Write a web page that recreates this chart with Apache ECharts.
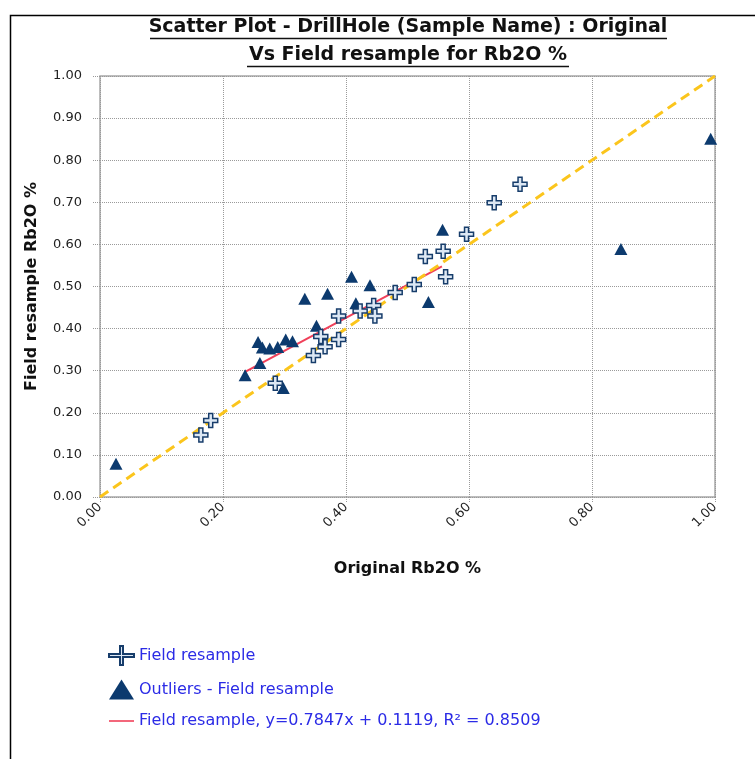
<!DOCTYPE html>
<html><head><meta charset="utf-8">
<script src="https://cdn.jsdelivr.net/npm/echarts@6/dist/echarts.min.js"></script>
<style>html,body{margin:0;padding:0;background:#fff}#c{width:755px;height:759px}</style>
</head><body><div id="c"></div>
<script>
const titleLines = ['Scatter Plot - DrillHole (Sample Name) : Original', 'Vs Field resample for Rb2O %'];
const xAxisName = 'Original Rb2O %';
const yAxisName = 'Field resample Rb2O %';
const seriesNames = ['Field resample', 'Outliers - Field resample', 'Field resample, y=0.7847x + 0.1119, R\u00B2 = 0.8509'];

const fieldResample = [
  [0.164,0.147],[0.180,0.182],[0.285,0.270],[0.347,0.336],[0.359,0.381],[0.366,0.357],
  [0.388,0.374],[0.388,0.430],[0.423,0.442],[0.445,0.455],[0.447,0.430],[0.480,0.486],
  [0.511,0.505],[0.529,0.571],[0.558,0.584],[0.562,0.523],[0.596,0.624],[0.641,0.699],[0.683,0.743]
];
const outliers = [
  [0.026,0.079],[0.236,0.289],[0.260,0.318],[0.257,0.368],[0.264,0.355],[0.276,0.353],
  [0.289,0.356],[0.302,0.374],[0.313,0.370],[0.298,0.259],[0.333,0.471],[0.352,0.407],
  [0.370,0.483],[0.409,0.523],[0.416,0.460],[0.439,0.503],[0.534,0.463],[0.557,0.635],
  [0.847,0.589],[0.993,0.851]
];
const trendLine = [[0.236,0.297],[0.556,0.548]];
const equalityLine = [[0,0],[1,1]];
const xTicks = {min:0, max:1, interval:0.2};
const yTicks = {min:0, max:1, interval:0.1};

const F = '"DejaVu Sans", sans-serif';
const plusPath = 'path://M5,0 L9,0 L9,5 L14,5 L14,9 L9,9 L9,14 L5,14 L5,9 L0,9 L0,5 L5,5 Z';
const plusLegendPath = 'path://M0,8 L11,8 L11,0 L14,0 L14,8 L25,8 L25,11 L14,11 L14,19 L11,19 L11,11 L0,11 Z';
const lineIcon = 'path://M0,0 L25,0 L25,1.6 L0,1.6 Z';

const chart = echarts.init(document.getElementById('c'), null, {renderer:'canvas'});
chart.setOption({
  backgroundColor: '#fff',
  animation: false,
  graphic: [
    {type:'rect', shape:{x:10.5, y:15.5, width:800, height:800}, style:{fill:'none', stroke:'#000', lineWidth:1.5}, silent:true},
    {type:'text', x:408, y:27, style:{text:titleLines[0], font:'bold 19px '+F, fill:'#111', align:'center', verticalAlign:'middle'}},
    {type:'text', x:408, y:55, style:{text:titleLines[1], font:'bold 19px '+F, fill:'#111', align:'center', verticalAlign:'middle'}},
    {type:'line', shape:{x1:150, y1:38.5, x2:667, y2:38.5}, style:{stroke:'#111', lineWidth:1.5}},
    {type:'line', shape:{x1:247, y1:66.5, x2:569, y2:66.5}, style:{stroke:'#111', lineWidth:1.5}}
  ],
  grid: {left:100, right:40, top:76, bottom:262, show:true, borderColor:'#a8a8a8', borderWidth:1.5},
  xAxis: {
    type:'value', min:xTicks.min, max:xTicks.max, interval:xTicks.interval,
    name:xAxisName, nameLocation:'middle', nameGap:64,
    nameTextStyle:{fontFamily:F, fontWeight:'bold', fontSize:16, color:'#111'},
    axisLine:{show:false},
    axisTick:{show:true, length:6, lineStyle:{color:'#999', type:'dotted'}},
    axisLabel:{rotate:45, margin:8, fontFamily:F, fontSize:13, color:'#222', formatter:v=>v.toFixed(2)},
    splitLine:{show:true, lineStyle:{color:'#9a9a9a', type:'dotted', width:1}}
  },
  yAxis: {
    type:'value', min:yTicks.min, max:yTicks.max, interval:yTicks.interval,
    name:yAxisName, nameLocation:'middle', nameGap:60, nameRotate:90,
    nameTextStyle:{fontFamily:F, fontWeight:'bold', fontSize:16, color:'#111'},
    axisLine:{show:false},
    axisTick:{show:true, length:8, lineStyle:{color:'#999', type:'dotted'}},
    axisLabel:{margin:18, fontFamily:F, fontSize:13, color:'#222', formatter:v=>v.toFixed(2)},
    splitLine:{show:true, lineStyle:{color:'#9a9a9a', type:'dotted', width:1}}
  },
  legend: {
    orient:'vertical', left:103, top:640, itemWidth:25, itemHeight:20, itemGap:13.5,
    data: [{name:seriesNames[0], icon:plusLegendPath}, seriesNames[1], {name:seriesNames[2], icon:lineIcon}],
    textStyle:{fontFamily:F, fontSize:16, color:'#2b2be6'},
    selectedMode:false
  },
  series: [
    {name:seriesNames[2], type:'line', data:trendLine, symbol:'none', z:2,
     lineStyle:{color:'#f0405a', width:2}, itemStyle:{color:'#f0405a'}},
    {name:'1:1', type:'line', data:equalityLine, symbol:'none', z:3,
     lineStyle:{color:'#fbc51c', width:3, type:[10,6]}},
    {name:seriesNames[0], type:'scatter', data:fieldResample, symbol:plusPath, symbolSize:14, z:5,
     itemStyle:{color:'#dde8f4', borderColor:'#173d6b', borderWidth:1.5, opacity:1}},
    {name:seriesNames[1], type:'scatter', data:outliers, symbol:'triangle', symbolSize:[13,12], z:4,
     itemStyle:{color:'#0c3a6e', opacity:1}}
  ]
});
</script></body></html>
